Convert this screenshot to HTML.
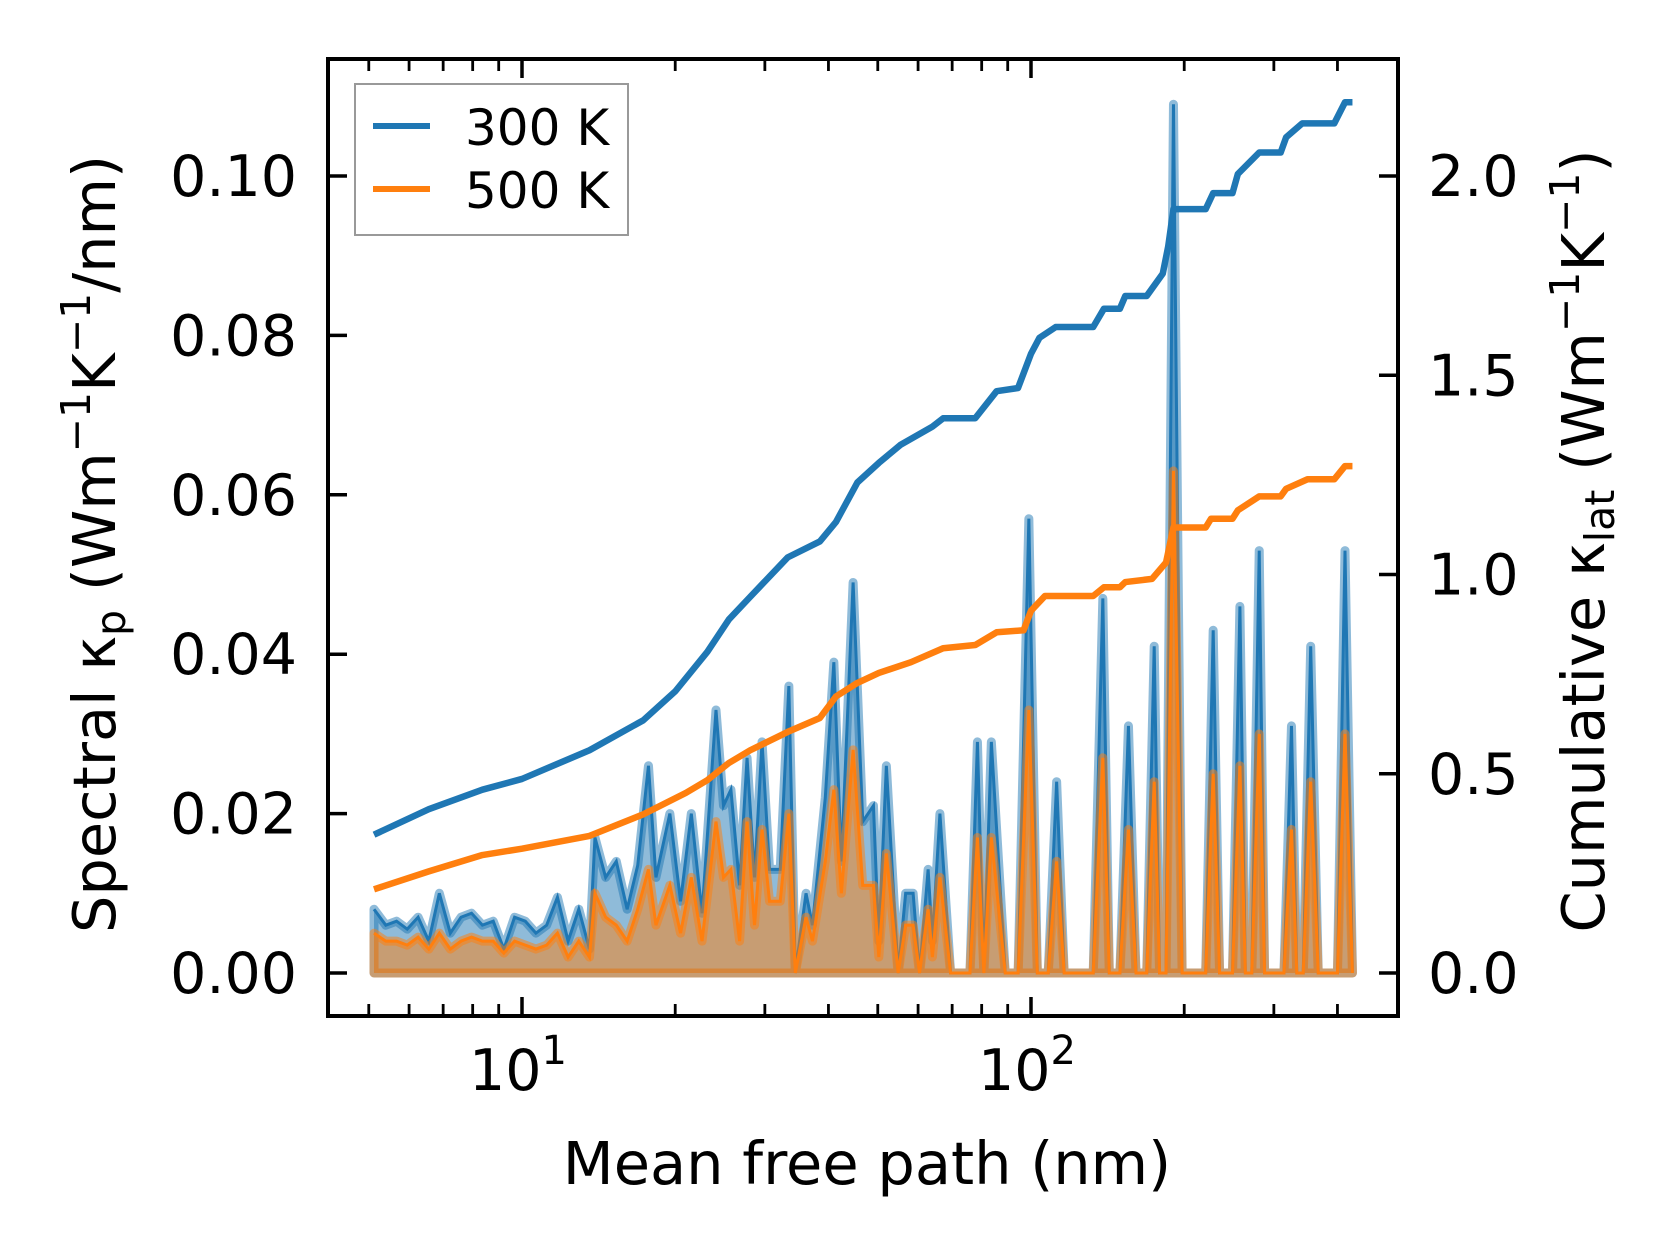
<!DOCTYPE html>
<html><head><meta charset="utf-8"><style>
html,body{margin:0;padding:0;background:#fff}
svg{display:block;font-family:"DejaVu Sans","Liberation Sans",sans-serif}
</style></head><body>
<svg id="chart" width="1679" height="1254" viewBox="0 0 1679 1254" xmlns="http://www.w3.org/2000/svg">
<g id="plot"></g>
<g id="axes"></g>
</svg>
<script>
// ---- data ----
const specMfp = [5.12,5.40,5.67,5.95,6.25,6.56,6.88,7.23,7.59,7.96,8.36,8.78,9.21,9.67,10.15,10.65,11.18,11.74,12.32,12.93,13.57,13.91,14.60,15.32,16.09,16.88,17.72,18.33,19.52,20.49,21.51,22.58,24.05,24.88,25.73,26.76,27.68,28.63,29.62,30.64,32.16,33.44,34.43,36.14,37.21,39.43,40.99,42.41,44.72,46.71,49.03,50.24,51.98,54.82,56.72,58.67,60.40,62.79,64.01,66.23,69.51,75.86,78.48,80.80,83.58,89.01,94.34,99.03,102.9,108.1,112.3,116.2,132.5,138.4,142.5,149.5,155.4,160.8,168.8,174.6,178.9,184.2,190.5,198.1,220.4,228.0,234.7,248.8,257.3,263.7,271.5,280.8,287.7,314.0,324.9,332.8,342.6,354.4,366.7,400.0,413.9,428.1];
const spec300 = [0.008,0.006,0.0065,0.0055,0.007,0.004,0.010,0.005,0.007,0.0075,0.006,0.0065,0.003,0.007,0.0065,0.005,0.006,0.0095,0.004,0.008,0.003,0.017,0.012,0.014,0.008,0.0135,0.026,0.012,0.020,0.009,0.020,0.0075,0.033,0.021,0.023,0.011,0.027,0.012,0.029,0.013,0.013,0.036,0.0,0.010,0.006,0.022,0.039,0.014,0.049,0.019,0.021,0.004,0.026,0.0,0.010,0.010,0.0,0.013,0.004,0.020,0.0,0.0,0.029,0.0,0.029,0.0,0.0,0.057,0.0,0.0,0.024,0.0,0.0,0.047,0.0,0.0,0.031,0.0,0.0,0.041,0.0,0.0,0.109,0.0,0.0,0.043,0.0,0.0,0.046,0.0,0.0,0.053,0.0,0.0,0.031,0.0,0.0,0.041,0.0,0.0,0.053,0.0];
const spec500 = [0.005,0.004,0.004,0.0035,0.0045,0.003,0.005,0.003,0.004,0.0045,0.004,0.004,0.0025,0.004,0.0035,0.003,0.0035,0.005,0.002,0.004,0.002,0.010,0.007,0.006,0.004,0.008,0.013,0.006,0.011,0.005,0.012,0.004,0.019,0.012,0.013,0.004,0.019,0.006,0.018,0.009,0.009,0.020,0.0,0.007,0.004,0.014,0.023,0.010,0.028,0.011,0.011,0.002,0.015,0.0,0.006,0.006,0.0,0.008,0.002,0.012,0.0,0.0,0.017,0.0,0.017,0.0,0.0,0.033,0.0,0.0,0.014,0.0,0.0,0.027,0.0,0.0,0.018,0.0,0.0,0.024,0.0,0.0,0.063,0.0,0.0,0.025,0.0,0.0,0.026,0.0,0.0,0.030,0.0,0.0,0.018,0.0,0.0,0.024,0.0,0.0,0.030,0.0];
const cum300Mfp = [5.12,6.56,8.36,10,13.57,17.30,20.01,23.13,25.49,28.08,33.27,38.48,41.39,45.60,50.24,55.37,64.0,67.2,77.7,85.6,94.3,100,103.9,111.8,132.5,139.1,149.5,153.2,168.8,181.5,186.0,190.5,220.4,228.0,248.8,254.9,280.8,309.4,317.1,341.0,394.3,413.9,428.1];
const cum300 = [0.347,0.411,0.460,0.487,0.559,0.634,0.707,0.806,0.887,0.944,1.043,1.083,1.132,1.231,1.280,1.325,1.371,1.392,1.392,1.460,1.468,1.554,1.594,1.621,1.621,1.667,1.667,1.699,1.699,1.755,1.823,1.917,1.917,1.957,1.957,2.005,2.059,2.059,2.097,2.132,2.132,2.185,2.185];
const cum500Mfp = [5.12,6.56,8.36,10,13.57,17.30,20.99,23.13,25.49,28.08,33.27,38.48,41.39,45.60,50.24,58.1,67.2,77.7,85.6,96.7,100,106.5,132.5,139.1,149.5,153.2,172.9,184.2,190.5,220.4,225.8,248.8,254.9,280.8,309.4,317.1,349.4,394.3,413.9,428.1];
const cum500 = [0.210,0.255,0.296,0.312,0.344,0.398,0.452,0.484,0.527,0.559,0.605,0.640,0.694,0.728,0.753,0.780,0.815,0.823,0.855,0.860,0.909,0.946,0.946,0.968,0.968,0.981,0.989,1.030,1.118,1.118,1.140,1.140,1.161,1.196,1.196,1.215,1.239,1.239,1.272,1.272];
const leftTicks = [0,0.02,0.04,0.06,0.08,0.10];
const leftTickLabels = ["0.00","0.02","0.04","0.06","0.08","0.10"];
const rightTicks = [0,0.5,1.0,1.5,2.0];
const rightTickLabels = ["0.0","0.5","1.0","1.5","2.0"];
const xMajor = [10,100];
const xMinor = [5,6,7,8,9,20,30,40,50,60,70,80,90,200,300,400];

// ---- axes functions ----
const L=328,R=1398,T=59,B=1016;
const X10=522, DEC=509;
const Y0=973, Y01=176;
const xs = v => X10 + (Math.log10(v)-1)*DEC;
const yl = v => Y0 + v*(Y01-Y0)/0.1;
const yr = v => Y0 + v*(Y01-Y0)/2.0;
const NS="http://www.w3.org/2000/svg";
function mk(tag, attrs, parent){const e=document.createElementNS(NS,tag);for(const k in attrs)e.setAttribute(k,attrs[k]);parent.appendChild(e);return e;}
const plot=document.getElementById('plot'), axes=document.getElementById('axes');

function linePts(xa,ya,yf){return xa.map((x,i)=>xs(x).toFixed(2)+','+yf(ya[i]).toFixed(2)).join(' ');}
function areaPts(xa,ya,yf){return linePts(xa,ya,yf)+' '+xs(xa[xa.length-1]).toFixed(2)+','+yf(0)+' '+xs(xa[0]).toFixed(2)+','+yf(0);}

let e;
e=mk('polygon',{points:areaPts(specMfp,spec300,yl),fill:'rgba(31,119,180,0.5)',stroke:'rgba(31,119,180,0.5)','stroke-width':9,'stroke-linejoin':'round'},plot);


e=mk('polyline',{points:linePts(specMfp,spec300,yl),fill:'none',stroke:'#1f77b4','stroke-width':3},plot);


e=mk('polygon',{points:areaPts(specMfp,spec500,yl),fill:'rgba(255,127,14,0.5)',stroke:'rgba(255,127,14,0.5)','stroke-width':9,'stroke-linejoin':'round'},plot);


e=mk('polyline',{points:linePts(specMfp,spec500,yl),fill:'none',stroke:'#ff7f0e','stroke-width':3},plot);


e=mk('polyline',{points:linePts(cum300Mfp,cum300,yr),fill:'none',stroke:'#1f77b4','stroke-width':6.5,'stroke-linejoin':'round'},plot);


e=mk('polyline',{points:linePts(cum500Mfp,cum500,yr),fill:'none',stroke:'#ff7f0e','stroke-width':6.5,'stroke-linejoin':'round'},plot);



e=mk('rect',{x:L,y:T,width:R-L,height:B-T,fill:'none',stroke:'#000','stroke-width':4},axes);



leftTicks.forEach((v,i)=>{
  const y=yl(v);
  let t=mk('line',{x1:L,x2:L+19,y1:y,y2:y,stroke:'#000','stroke-width':3.5},axes);
  
  
  let tx=mk('text',{x:297,y:y+20,'text-anchor':'end','font-size':57},axes);
  tx.textContent=leftTickLabels[i];
  
  
});
rightTicks.forEach((v,i)=>{
  const y=yr(v);
  let t=mk('line',{x1:R-19,x2:R,y1:y,y2:y,stroke:'#000','stroke-width':3.5},axes);
  
  
  let tx=mk('text',{x:1428,y:y+20,'text-anchor':'start','font-size':57},axes);
  tx.textContent=rightTickLabels[i];
  
  
});
xMajor.forEach(v=>{
  const x=xs(v);
  [[B,B-19],[T,T+19]].forEach(p=>{
    let t=mk('line',{x1:x,x2:x,y1:p[0],y2:p[1],stroke:'#000','stroke-width':3.5},axes);
    
    
  });
  let tx=mk('text',{x:x-4,y:1090,'text-anchor':'middle','font-size':57},axes);
  
  
  const exp=Math.round(Math.log10(v));
  tx.innerHTML='10<tspan font-size="40" dy="-26">'+exp+'</tspan>';
});
xMinor.forEach(v=>{
  const x=xs(v);
  [[B,B-12],[T,T+12]].forEach(p=>{
    let t=mk('line',{x1:x,x2:x,y1:p[0],y2:p[1],stroke:'#000','stroke-width':2.8},axes);
    
    
  });
});
</script>
<svg style="position:absolute;left:0;top:0" width="1679" height="1254" xmlns="http://www.w3.org/2000/svg" font-family="DejaVu Sans, Liberation Sans, sans-serif">
  <text x="867" y="1184" text-anchor="middle" font-size="59">Mean free path (nm)</text>
  <text transform="translate(115,544) rotate(-90)" text-anchor="middle" font-size="59">Spectral κ<tspan font-size="41" dy="10">p</tspan><tspan dy="-10"> (Wm</tspan><tspan font-size="41" dy="-25">−1</tspan><tspan dy="25">K</tspan><tspan font-size="41" dy="-25">−1</tspan><tspan dy="25">/nm)</tspan></text>
  <text transform="translate(1604,541) rotate(-90)" text-anchor="middle" font-size="59">Cumulative κ<tspan font-size="41" dy="10">lat</tspan><tspan dy="-10"> (Wm</tspan><tspan font-size="41" dy="-25">−1</tspan><tspan dy="25">K</tspan><tspan font-size="41" dy="-25">−1</tspan><tspan dy="25">)</tspan></text>
  <g>
    <rect x="355" y="84" width="273" height="151" fill="#fff" fill-opacity="0.8" stroke="#999" stroke-width="2"/>
    <line x1="373" x2="430" y1="126" y2="126" stroke="#1f77b4" stroke-width="6"/>
    <text x="465" y="145" font-size="50">300 K</text>
    <line x1="373" x2="430" y1="189" y2="189" stroke="#ff7f0e" stroke-width="6"/>
    <text x="465" y="208" font-size="50">500 K</text>
  </g>
</svg>
</body></html>
